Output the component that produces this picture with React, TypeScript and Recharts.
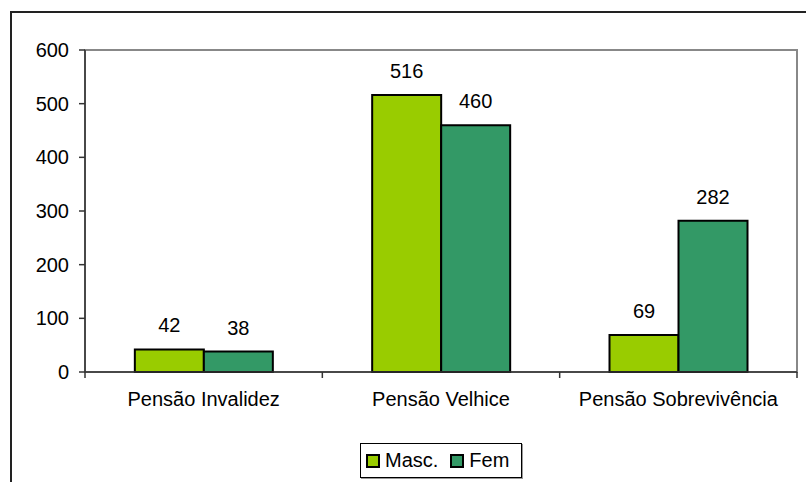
import { BarChart, Bar, XAxis, YAxis, Legend, LabelList, ReferenceArea } from 'recharts'

const categories = ['Pensão Invalidez', 'Pensão Velhice', 'Pensão Sobrevivência']
const masc = [42, 516, 69]
const fem = [38, 460, 282]
const yTicks = [0, 100, 200, 300, 400, 500, 600]

const series = [
  { key: 'masc', name: 'Masc.', color: '#99CC00' },
  { key: 'fem', name: 'Fem', color: '#339966' },
]

const data = categories.map((name, i) => ({ name, masc: masc[i], fem: fem[i] }))

const W = 806
const H = 482
const margin = { top: 50, right: 9, bottom: 70, left: 15 }
const yAxisWidth = 70
const font = '"Liberation Sans", Arial, sans-serif'
const fontSize = 20
const halfBand = (W - margin.left - yAxisWidth - margin.right) / categories.length / 2

function CategoryTick(props: any) {
  const { x, y, payload, index } = props
  const axisY = y - 6
  return (
    <g>
      <line x1={x - halfBand} y1={axisY} x2={x - halfBand} y2={axisY + 6} stroke="#333" strokeWidth={1.5} />
      {index === categories.length - 1 && (
        <line x1={x + halfBand} y1={axisY} x2={x + halfBand} y2={axisY + 6} stroke="#333" strokeWidth={1.5} />
      )}
      <text x={x} y={y} dy={28} textAnchor="middle" fontSize={fontSize} fill="#000" fontFamily={font}>
        {payload.value}
      </text>
    </g>
  )
}

function LegendBox() {
  return (
    <div
      style={{
        display: 'flex',
        alignItems: 'center',
        height: '100%',
        boxSizing: 'border-box',
        border: '1.5px solid #000',
        boxShadow: '1px 1px 0 #999',
        background: '#fff',
        paddingLeft: 5,
        fontFamily: font,
        fontSize,
        color: '#000',
      }}
    >
      {series.map((s) => (
        <span key={s.key} style={{ display: 'flex', alignItems: 'center', marginRight: 12 }}>
          <span
            style={{
              width: 14,
              height: 14,
              boxSizing: 'border-box',
              background: s.color,
              border: '2px solid #000',
              marginRight: 5,
            }}
          />
          {s.name}
        </span>
      ))}
    </div>
  )
}

export default function App() {
  return (
    <div style={{ position: 'absolute', left: 0, top: 0, width: W, height: H, background: '#fff' }}>
      <div
        style={{
          position: 'absolute',
          left: 10,
          top: 11,
          width: W - 10,
          height: H - 11,
          borderTop: '2px solid #222',
          borderLeft: '2px solid #222',
        }}
      />
      <BarChart
        width={W}
        height={H}
        data={data}
        margin={margin}
        barCategoryGap="21%"
        barGap={0}
        style={{ position: 'absolute', left: 0, top: 0 }}
      >
        <ReferenceArea y1={0} y2={600} fill="none" stroke="#888" strokeWidth={2} />
        <XAxis
          dataKey="name"
          height={40}
          tickLine={false}
          tickSize={6}
          tickMargin={0}
          stroke="#333"
          strokeWidth={1.5}
          tick={<CategoryTick />}
          interval={0}
        />
        <YAxis
          width={yAxisWidth}
          domain={[0, 600]}
          ticks={yTicks}
          tickSize={6}
          tickMargin={10}
          stroke="#333"
          strokeWidth={1.5}
          tick={{ fill: '#000', fontSize, fontFamily: font }}
        />
        <Legend
          layout="horizontal"
          verticalAlign="middle"
          align="center"
          content={<LegendBox />}
          wrapperStyle={{ left: 360, top: 443, width: 162, height: 35, bottom: 'auto', right: 'auto' }}
        />
        {series.map((s) => (
          <Bar key={s.key} dataKey={s.key} name={s.name} fill={s.color} stroke="#000" strokeWidth={2} isAnimationActive={false}>
            <LabelList dataKey={s.key} position="top" offset={17} fill="#000" fontSize={fontSize} fontFamily={font} />
          </Bar>
        ))}
      </BarChart>
    </div>
  )
}
